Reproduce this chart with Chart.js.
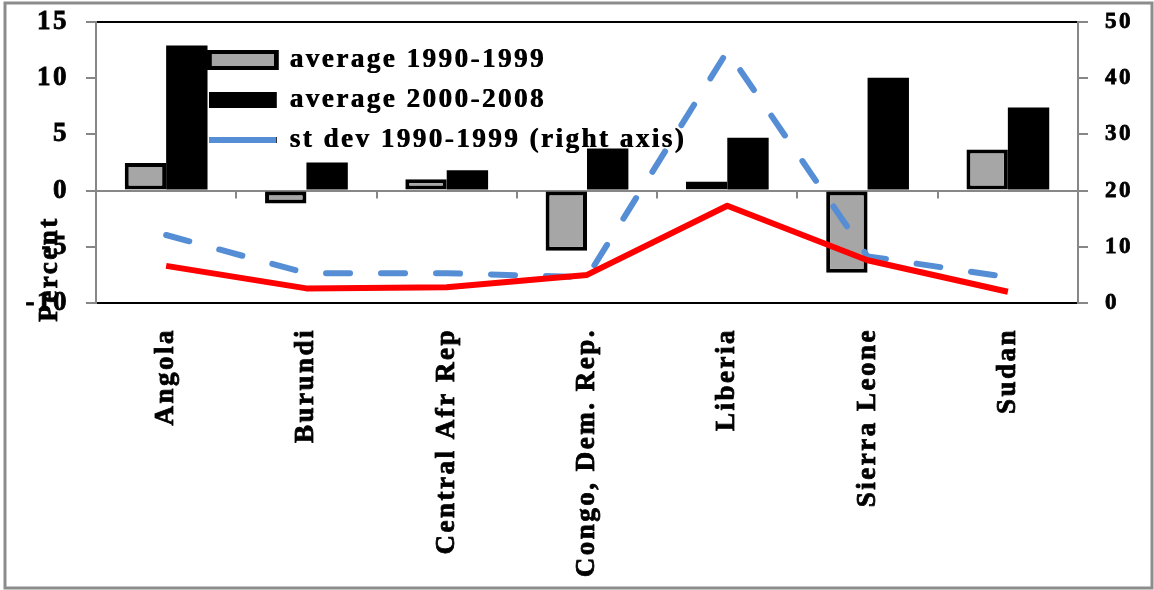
<!DOCTYPE html>
<html><head><meta charset="utf-8">
<script src="https://cdn.jsdelivr.net/npm/chart.js@4/dist/chart.umd.min.js"></script>
<style>html,body{margin:0;padding:0;background:#fff}canvas{display:block}</style>
</head><body>
<canvas id="c" width="1154" height="590"></canvas>
<script>
const categories = ['Angola', 'Burundi', 'Central Afr Rep', 'Congo, Dem. Rep.', 'Liberia', 'Sierra Leone', 'Sudan'];
const avg1990s = [2.45, -1.15, 1.0, -5.35, 0.8, -7.3, 3.65];
const avg2000s = [12.9, 2.5, 1.8, 3.75, 4.7, 10.05, 7.4];
const sd1990s = [12.1, 5.3, 5.3, 4.6, 44.8, 8.3, 4.6];
const sd2000s = [6.6, 2.6, 2.8, 5.0, 17.3, 7.6, 2.0];
const seriesNames = ['average 1990-1999', 'average 2000-2008', 'st dev 1990-1999 (right axis)', 'st dev 2000-2008 (right axis)'];
const leftRange = [-10, 15];
const rightRange = [0, 50];
const tickStep = 5;
const yTitle = 'Percent';

const FONT = 'Liberation Serif';
const GRAY = '#878787';
const SPACING = '2.5px';

Chart.defaults.font = { family: FONT, weight: 'bold', size: 27 };
Chart.defaults.color = '#000';

const spacingPlugin = {
  id: 'spacing',
  beforeLayout(chart) { chart.ctx.letterSpacing = SPACING; },
  beforeDraw(chart) { chart.ctx.letterSpacing = SPACING; }
};

const framePlugin = {
  id: 'frame',
  beforeDraw(chart) {
    const ctx = chart.ctx;
    ctx.save();
    ctx.fillStyle = '#fff';
    ctx.fillRect(0, 0, chart.width, chart.height);
    ctx.strokeStyle = '#8c8c8c';
    ctx.lineWidth = 3;
    ctx.strokeRect(5, 3, chart.width - 7, chart.height - 5);
    ctx.restore();
  }
};

const legendMove = {
  id: 'legendMove',
  afterLayout(chart) {
    const lg = chart.legend;
    const a = chart.chartArea;
    lg.left = a.left + 100;
    lg.top = a.top + 11.5;
    if (!lg._heavy) {
      const orig = lg.draw.bind(lg);
      lg.draw = function () {
        const ctx = chart.ctx;
        ctx.save();
        ctx.shadowColor = '#000';
        ctx.shadowOffsetX = 0.8;
        ctx.shadowOffsetY = 0;
        ctx.shadowBlur = 0;
        orig();
        ctx.restore();
      };
      lg._heavy = true;
    }
  }
};

const catTicks = {
  id: 'catTicks',
  beforeDatasetsDraw(chart) {
    const x = chart.scales.x, y = chart.scales.y;
    const y0 = y.getPixelForValue(0);
    const ctx = chart.ctx;
    ctx.save();
    ctx.strokeStyle = GRAY;
    ctx.lineWidth = 2;
    for (let i = 1; i < categories.length; i++) {
      const px = Math.round((x.getPixelForValue(i - 1) + x.getPixelForValue(i)) / 2);
      ctx.beginPath();
      ctx.moveTo(px, y0);
      ctx.lineTo(px, y0 + 8);
      ctx.stroke();
    }
    ctx.restore();
  }
};

const titlePlugin = {
  id: 'yTitle',
  afterDraw(chart) {
    const a = chart.chartArea;
    const ctx = chart.ctx;
    ctx.save();
    ctx.letterSpacing = SPACING;
    ctx.translate(a.left - 46, a.bottom - 34);
    ctx.rotate(-Math.PI / 2);
    ctx.font = 'bold 27px "' + FONT + '"';
    ctx.textAlign = 'center';
    ctx.textBaseline = 'middle';
    ctx.fillStyle = '#000';
    ctx.strokeStyle = '#000';
    ctx.lineWidth = 0.8;
    ctx.fillText(yTitle, 0, 0);
    ctx.strokeText(yTitle, 0, 0);
    ctx.restore();
  }
};

function fitV(w) {
  return function (s) { s.width = w; s.paddingTop = 0; s.paddingBottom = 0; };
}

const tickStroke = { textStrokeColor: '#000', textStrokeWidth: 0.8 };

new Chart(document.getElementById('c'), {
  type: 'bar',
  data: {
    labels: categories,
    datasets: [
      {
        label: seriesNames[0], data: avg1990s, yAxisID: 'y', order: 2,
        backgroundColor: '#A6A6A6', borderColor: '#000', borderWidth: 4, borderSkipped: false,
        pointStyle: 'rect', barPercentage: 1, categoryPercentage: 0.59
      },
      {
        label: seriesNames[1], data: avg2000s, yAxisID: 'y', order: 2,
        backgroundColor: '#000', borderColor: '#000', borderWidth: 0,
        pointStyle: 'rect', barPercentage: 1, categoryPercentage: 0.59
      },
      {
        type: 'line', label: seriesNames[2], data: sd1990s, yAxisID: 'y1', order: 1,
        borderColor: '#558ED5', backgroundColor: '#558ED5', borderWidth: 6,
        borderDash: [24, 31], borderCapStyle: 'round', tension: 0,
        pointRadius: 0, pointHoverRadius: 0, pointStyle: 'line'
      },
      {
        type: 'line', label: seriesNames[3], data: sd2000s, yAxisID: 'y1', order: 0,
        borderColor: '#FF0000', backgroundColor: '#FF0000', borderWidth: 6,
        borderJoinStyle: 'round', tension: 0,
        pointRadius: 0, pointHoverRadius: 0, pointStyle: 'line'
      }
    ]
  },
  options: {
    responsive: false,
    animation: false,
    events: [],
    layout: { padding: { top: 22, left: 0, right: 0, bottom: 0 } },
    plugins: {
      tooltip: { enabled: false },
      legend: {
        position: 'chartArea',
        align: 'start',
        labels: {
          usePointStyle: true,
          pointStyleWidth: 67,
          boxHeight: 16,
          padding: 13,
          font: { family: FONT, weight: 'bold', size: 27 },
          color: '#000',
          filter: (item) => item.datasetIndex !== 3,
          sort: (a, b) => a.datasetIndex - b.datasetIndex
        }
      }
    },
    scales: {
      x: {
        grid: { display: false },
        border: { display: false },
        ticks: Object.assign({
          autoSkip: false, minRotation: 90, maxRotation: 90, padding: 17,
          font: { family: FONT, weight: 'bold', size: 27 }
        }, tickStroke),
        afterFit(s) { s.height = 287; s.paddingLeft = 0; s.paddingRight = 0; }
      },
      y: {
        position: 'left',
        min: leftRange[0], max: leftRange[1],
        ticks: Object.assign({ stepSize: tickStep, padding: 17, font: { family: FONT, weight: 'bold', size: 27 } }, tickStroke),
        grid: {
          drawOnChartArea: true,
          tickLength: 10,
          tickColor: GRAY,
          lineWidth: 2,
          color: (c) => {
            const v = c.tick ? c.tick.value : null;
            if (v === 0) return GRAY;
            if (v === leftRange[0] || v === leftRange[1]) return '#000';
            return 'rgba(0,0,0,0)';
          }
        },
        border: { color: GRAY, width: 2 },
        afterFit: fitV(96)
      },
      y1: {
        position: 'right',
        min: rightRange[0], max: rightRange[1],
        ticks: Object.assign({ stepSize: tickStep, padding: 17, font: { family: FONT, weight: 'bold', size: 23 } }, tickStroke),
        grid: { drawOnChartArea: false, tickLength: 10, tickColor: GRAY, lineWidth: 2 },
        border: { color: GRAY, width: 2 },
        afterFit: fitV(76)
      }
    }
  },
  plugins: [spacingPlugin, framePlugin, legendMove, catTicks, titlePlugin]
});
</script>
</body></html>
